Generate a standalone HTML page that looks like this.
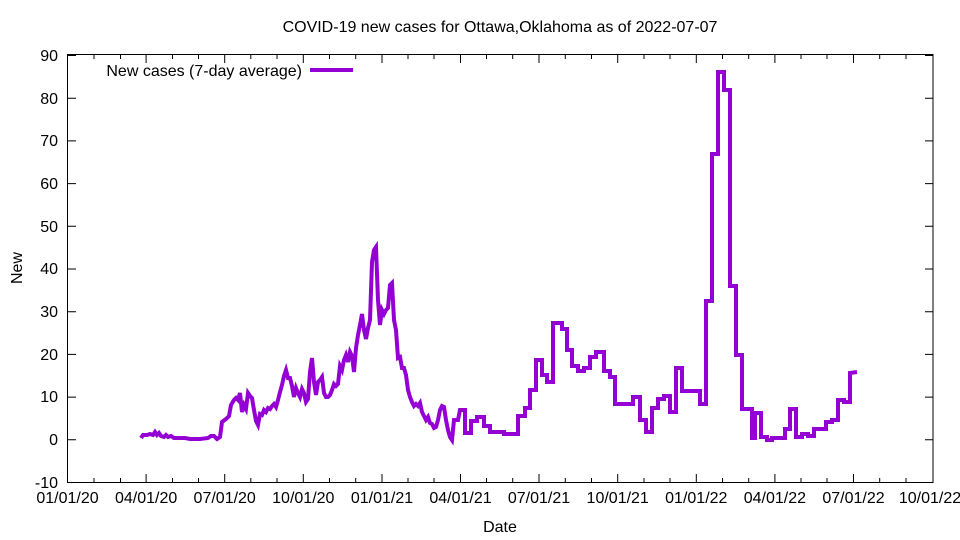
<!DOCTYPE html>
<html><head><meta charset="utf-8"><style>
html,body{margin:0;padding:0;background:#fff;}
svg{display:block;font-family:"Liberation Sans",sans-serif;}
</style></head><body>
<svg width="960" height="540" xmlns="http://www.w3.org/2000/svg">
<rect width="960" height="540" fill="#fff"/>
<text x="500" y="32" font-size="16" text-anchor="middle">COVID-19 new cases for Ottawa,Oklahoma as of 2022-07-07</text>
<g font-size="16" text-anchor="end">
<text x="58" y="61">90</text><text x="58" y="104">80</text><text x="58" y="146">70</text><text x="58" y="189">60</text><text x="58" y="232">50</text><text x="58" y="274">40</text><text x="58" y="317">30</text><text x="58" y="360">20</text><text x="58" y="402">10</text><text x="58" y="445">0</text><text x="58" y="488">-10</text>
</g>
<g stroke="#000" stroke-width="1">
<path d="M68 55.5h8M68 98.2h8M68 140.9h8M68 183.6h8M68 226.3h8M68 269h8M68 311.7h8M68 354.4h8M68 397.1h8M68 439.8h8M68 482.5h8"/>
<path d="M933 55.5h-8M933 98.2h-8M933 140.9h-8M933 183.6h-8M933 226.3h-8M933 269h-8M933 311.7h-8M933 354.4h-8M933 397.1h-8M933 439.8h-8"/>
<path d="M146.1 482v-8M224.7 482v-8M303.3 482v-8M382 482v-8M460.5 482v-8M539 482v-8M617.7 482v-8M696.3 482v-8M774.9 482v-8M853.5 482v-8"/>
<path d="M146.1 55v8M224.7 55v8M303.3 55v8M382 55v8M460.5 55v8M539 55v8M617.7 55v8M696.3 55v8M774.9 55v8M853.5 55v8"/>
<path d="M94 482v-4M120.5 482v-4M172.5 482v-4M198.5 482v-4M250.8 482v-4M277 482v-4M329.5 482v-4M355.7 482v-4M408 482v-4M434 482v-4M486.5 482v-4M512.7 482v-4M565.3 482v-4M591.5 482v-4M644 482v-4M670 482v-4M722.5 482v-4M748.7 482v-4M801 482v-4M827 482v-4M879.7 482v-4M906 482v-4"/>
<path d="M94 55v4M120.5 55v4M172.5 55v4M198.5 55v4M250.8 55v4M277 55v4M329.5 55v4M355.7 55v4M408 55v4M434 55v4M486.5 55v4M512.7 55v4M565.3 55v4M591.5 55v4M644 55v4M670 55v4M722.5 55v4M748.7 55v4M801 55v4M827 55v4M879.7 55v4M906 55v4"/>
</g>
<rect x="67.5" y="54.5" width="865.5" height="428" fill="none" stroke="#000" stroke-width="1"/>
<g font-size="16" text-anchor="middle">
<text x="67.5" y="503">01/01/20</text><text x="146.1" y="503">04/01/20</text><text x="224.7" y="503">07/01/20</text><text x="303.3" y="503">10/01/20</text><text x="382" y="503">01/01/21</text><text x="460.5" y="503">04/01/21</text><text x="539" y="503">07/01/21</text><text x="617.7" y="503">10/01/21</text><text x="696.3" y="503">01/01/22</text><text x="774.9" y="503">04/01/22</text><text x="853.5" y="503">07/01/22</text><text x="930" y="503">10/01/22</text>
<text x="500" y="532">Date</text>
</g>
<text x="22" y="268" font-size="16" text-anchor="middle" transform="rotate(-90 22 268)">New</text>
<text x="302" y="76" font-size="16" text-anchor="end">New cases (7-day average)</text>
<line x1="310" y1="70" x2="353" y2="70" stroke="#9400d3" stroke-width="4"/>
<polyline fill="none" stroke="#9400d3" stroke-width="4" stroke-linejoin="miter" points="
141,438 143,435 147,435 150,434 153,435 155,432 157,435 159,433 161,436 164,437 166,435 168,437 171,436 174,438 177,438 181,438 185,438 190,439 200,439 208,438 211,436 214,436 217,439 220,437 222,422 226,419 229,416 231,405 234,400 236,398 238,400 240,393 242,412 244,405 246,409 248,393 250,396 252,398 254,410 256,421 258,425 260,414 262,415 264,410 266,412 268,408 270,409 272,406 274,404 276,407 278,400 280,392 282,385 284,376 286,370 288,378 290,378 292,386 294,397 296,388 298,393 300,397 302,389 304,393 306,402 308,399 310,372 312,358 314,382 316,395 318,382 320,380 322,377 324,393 326,397 328,397 330,395 332,390 334,384 336,386 338,384 340,366 342,370 344,360 346,355 348,362 350,352 352,356 354,372 356,348 358,335 360,325 362,314 364,330 366,339 368,328 370,320 372,262 374,250 376,247 378,300 380,325 382,310 384,314 386,310 388,308 390,285 392,283 394,320 396,330 398,358 400,357 402,368 404,368 406,375 408,390 410,397 412,402 414,406 416,404 418,406 420,403 422,412 424,416 426,420 428,417 430,423 432,424 434,428 436,427 438,420 440,410 442,406 444,407 446,420 448,430 450,437 452,440 454,420 456,420 458,420 460,410 465,410 465,433 471,433 471,421 477,421 477,417 484,417 484,426 490,426 490,432 504,432 504,434 518,434 518,416 525,416 525,408 530,408 530,390 536,390 536,360 542,360 542,375 547,375 547,382 553,382 553,323 562,323 562,329 567,329 567,350 572,350 572,366 578,366 578,371 584,371 584,368 590,368 590,357 596,357 596,352 604,352 604,371 610,371 610,377 615,377 615,404 633,404 633,397 640,397 640,420 646,420 646,432 652,432 652,408 658,408 658,399 664,399 664,396 670,396 670,412 676,412 676,368 682,368 682,391 700,391 700,404 706,404 706,301 712,301 712,154 718,154 718,72 724,72 724,90 730,90 730,286 736,286 736,355 742,355 742,409 752,409 752,438 755,438 755,413 761,413 761,437 767,437 767,440 772,440 772,438 785,438 785,429 790,429 790,409 796,409 796,437 802,437 802,434 808,434 808,436 814,436 814,429 826,429 826,422 832,422 832,420 838,420 838,400 844,400 844,402 850,402 850,373 857,372"/>
</svg>
</body></html>
